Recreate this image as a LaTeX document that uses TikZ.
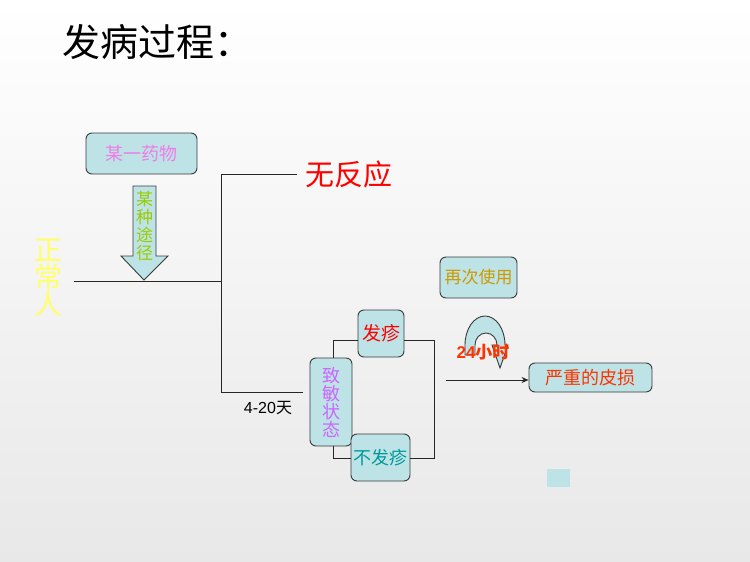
\documentclass[tikz,border=0pt]{standalone}
\usepackage{fontspec}
\setmainfont{Liberation Sans}
\newfontfamily\cjk{Noto Sans CJK SC}
\newfontfamily\cjkb{Noto Sans CJK SC Bold}
\usetikzlibrary{arrows.meta}
\definecolor{boxfill}{HTML}{BDE3E6}
\definecolor{boxline}{HTML}{3A3A3A}
\definecolor{pinkt}{HTML}{F07CE8}
\definecolor{greent}{HTML}{99CC00}
\definecolor{yellowt}{HTML}{FFFF66}
\definecolor{violett}{HTML}{CC66FF}
\definecolor{tealt}{HTML}{009999}
\definecolor{oranget}{HTML}{FF3300}
\definecolor{goldt}{HTML}{CC9900}
\tikzset{
  rbox/.style={draw=boxline, fill=boxfill, line width=0.9pt, rounded corners=6pt, inner sep=0pt, align=center},
  conn/.style={draw=black!85, line width=0.9pt},
  cjkt/.style={font=\cjk\fontsize{#1}{#1}\selectfont},
}
\begin{document}
\begin{tikzpicture}[x=1pt,y=-1pt]
\shade[top color=white, bottom color=black!9] (0,0) rectangle (750,562);
\useasboundingbox (0,0) rectangle (750,562);
% title
\node[cjkt=38, anchor=west, inner sep=0pt] (title) at (62,42) {发病过程：};
% drug box
\node[rbox, minimum width=111pt, minimum height=41pt, cjkt=18, text=pinkt] (drug) at (141.5,153.5) {某一药物};
% down arrow
\draw[boxline, fill=boxfill, line width=0.9pt] (133,186) -- (156,186) -- (156,256) -- (168,256) -- (144,280) -- (121,256) -- (133,256) -- cycle;
\node[cjkt=17, text=greent, align=center, inner sep=0pt] (route) at (144.5,226) {某\\[1pt]种\\[1pt]途\\[1pt]径};
% normal person
\node[cjkt=28, text=yellowt, align=center, inner sep=0pt] (normal) at (48.5,278) {正\\[-1pt]常\\[-1pt]人};
% main lines
\coordinate (start) at (74,281);
\coordinate (split) at (221,281);
\coordinate (top) at (221,174);
\coordinate (bot) at (221,392);
\coordinate (topend) at (297,174);
\coordinate (botend) at (303,392);
\draw[conn] (start) -- (split);
\draw[conn] (topend) -- (top) -- (bot) -- (botend);
\node[cjkt=29, text=red, anchor=west, inner sep=0pt] (noreact) at (305,174) {无反应};
\node[anchor=north, inner sep=0pt, font=\fontsize{16}{16}\selectfont] (days) at (268,401) {4-20{\cjk 天}};
% sensitized
\node[rbox, minimum width=42pt, minimum height=88pt, cjkt=18, text=violett] (sens) at (331,402) {致\\[0pt]敏\\[0pt]状\\[0pt]态};
\node[rbox, minimum width=46pt, minimum height=47pt, cjkt=19, text=red] (rash) at (381,333.5) {发疹};
\node[rbox, minimum width=59pt, minimum height=47pt, cjkt=18, text=tealt] (norash) at (380.5,457.5) {不发疹};
\draw[conn] (sens.north -| 333,0) -- (333,340) -- (rash.west |- 0,340);
\draw[conn] (sens.south -| 333,0) -- (333,458) -- (norash.west |- 0,458);
\draw[conn] (rash.east |- 0,340) -- (434,340) -- (434,458) -- (norash.east |- 0,458);
% again use
\node[rbox, minimum width=77pt, minimum height=41pt, cjkt=17, text=goldt] (again) at (478.5,277.5) {再次使用};
% U-turn arrow
\draw[boxline, fill=boxfill, line width=0.9pt]
  (465,355) -- (465,345) arc[start angle=180, end angle=360, x radius=20, y radius=29]
  -- (508,345) -- (500,368) -- (492,345) -- (497,345)
  arc[start angle=360, end angle=180, x radius=11, y radius=12] -- (475,355) -- cycle;
\node[font=\bfseries\fontsize{17}{17}\selectfont, text=oranget, inner sep=0pt] (hours) at (483,352) {24{\cjkb 小时}};
% result
\node[rbox, minimum width=123pt, minimum height=29pt, cjkt=18, text=oranget] (result) at (590.5,377.5) {严重的皮损};
\coordinate (arrstart) at (446,380);
\draw[conn, -{Stealth[length=7pt,width=6pt]}] (arrstart) -- (result.west |- 0,380);
% small square
\fill[boxfill] (547,469) rectangle (570,487);
\end{tikzpicture}
\end{document}
